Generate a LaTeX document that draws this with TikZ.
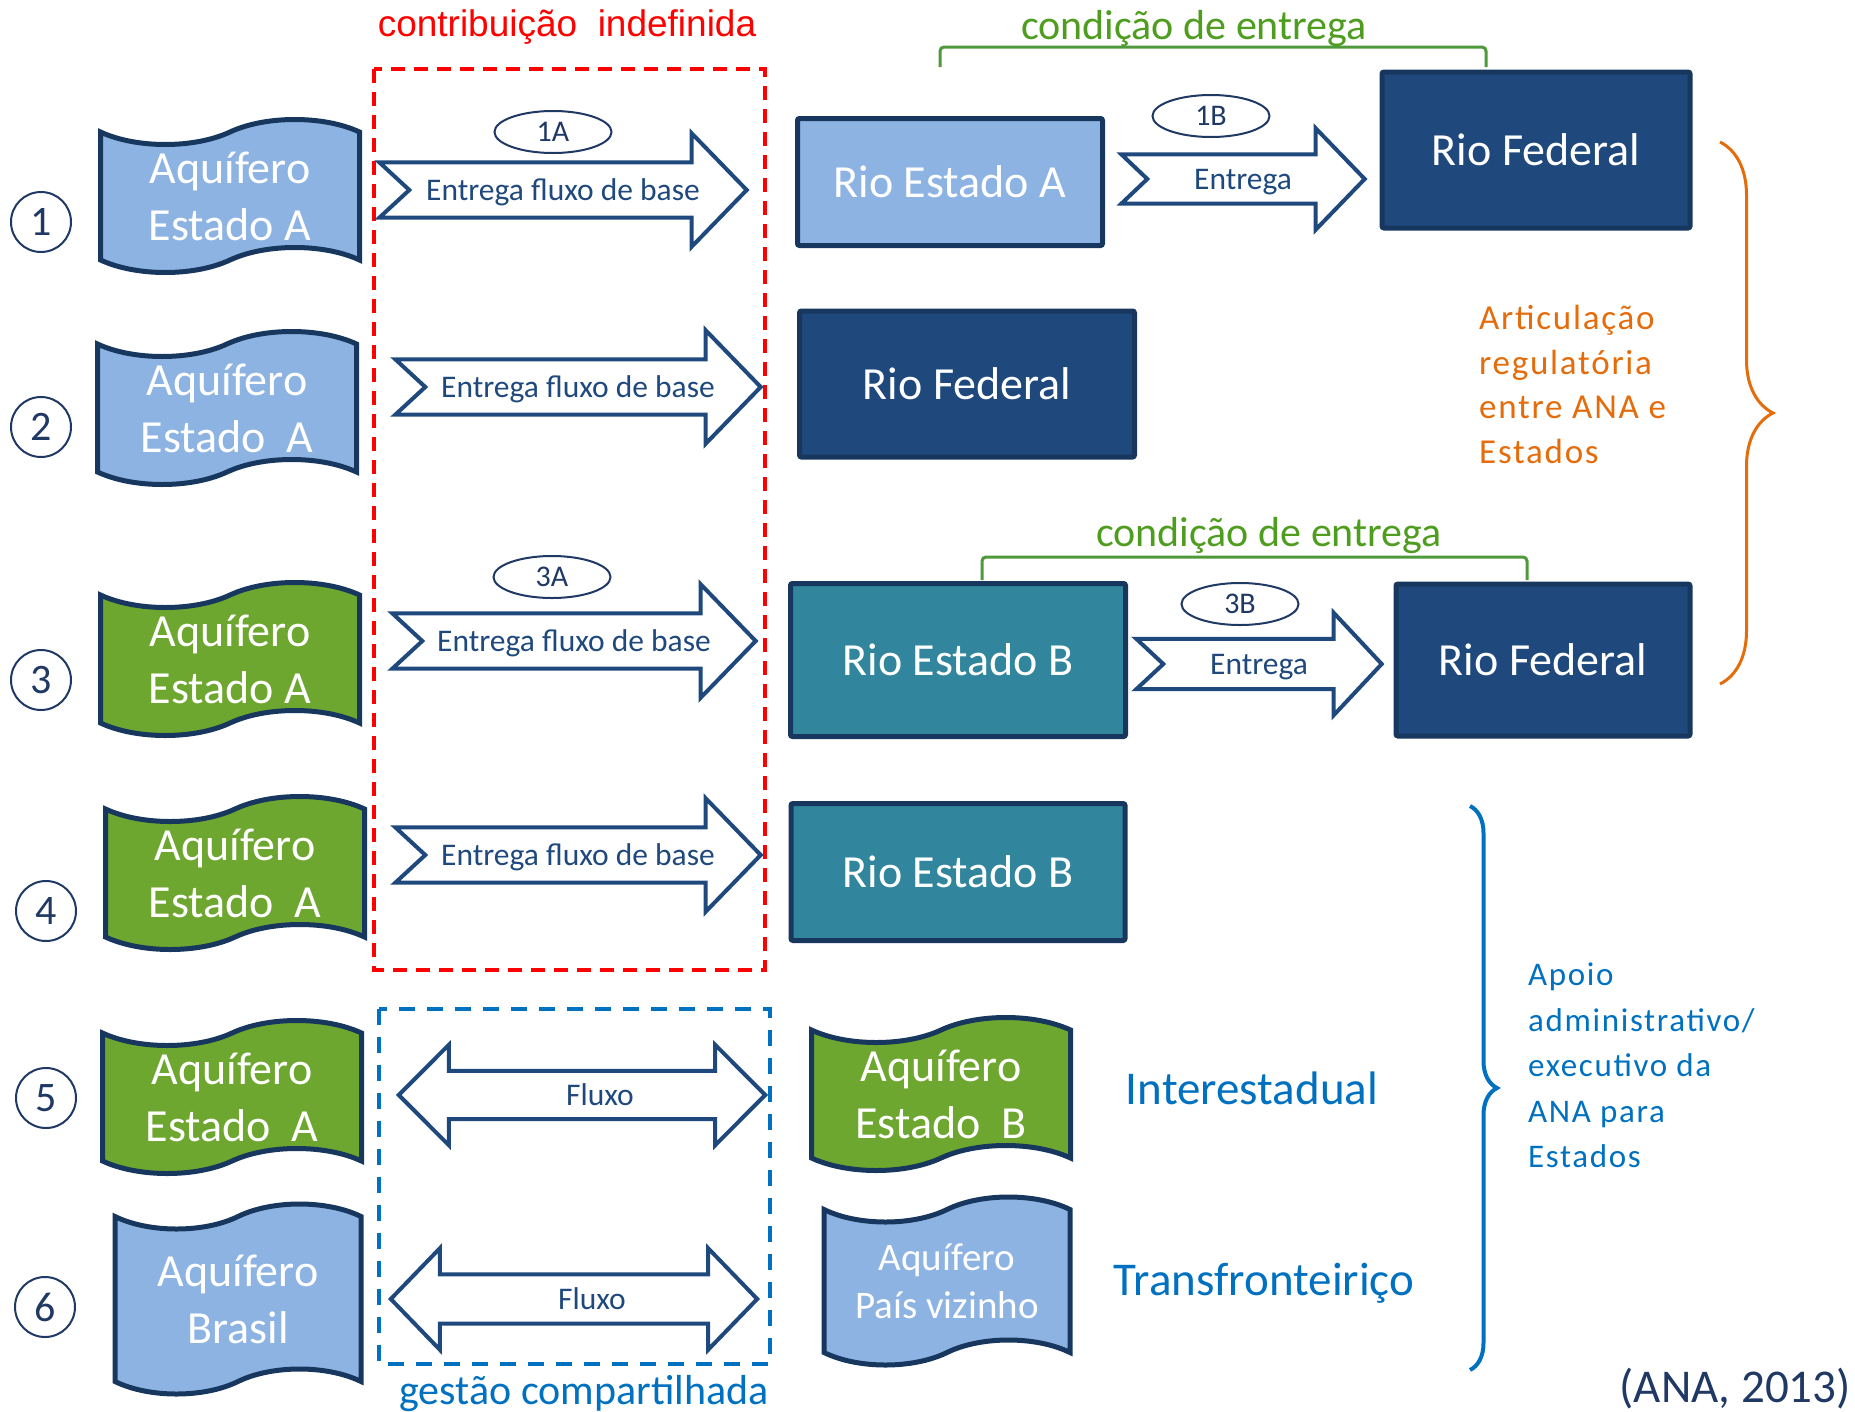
\documentclass[tikz,border=0pt]{standalone}
\usepackage{fontspec}
\setmainfont{Carlito}
\newfontfamily\arialfont{Liberation Sans}
\newfontfamily\widefont[LetterSpace=5]{Carlito}
\usetikzlibrary{shapes.symbols,shapes.geometric,decorations.pathreplacing}

\definecolor{navy}{HTML}{17375E}
\definecolor{numblue}{HTML}{1F3864}
\definecolor{arrowblue}{HTML}{1F497D}
\definecolor{lightblue}{HTML}{8DB3E2}
\definecolor{aqgreen}{HTML}{6EA72F}
\definecolor{fedblue}{HTML}{1F497D}
\definecolor{teal}{HTML}{31859C}
\definecolor{anablue}{HTML}{0070C0}
\definecolor{orangeana}{HTML}{E46C0A}
\definecolor{gtext}{HTML}{4F9D1F}
\definecolor{gline}{HTML}{4E9A3A}

\tikzset{
  aquifer/.style={tape, draw=navy, line width=5pt, tape bend top=in and out,
    tape bend bottom=in and out, tape bend height=25pt, minimum width=259pt,
    minimum height=153pt, inner sep=0pt, text=white, align=center,
    font=\fontsize{46}{57}\selectfont},
  rio/.style={draw=navy, line width=5pt, rounded corners=2pt, text=white,
    inner sep=0pt, font=\fontsize{46}{57}\selectfont},
  num/.style={circle, draw=numblue, line width=2pt, minimum size=60pt,
    inner sep=0pt, text=numblue, font=\fontsize{42}{42}\selectfont},
  shaft/.style={inner sep=0pt, text depth=0pt, text=arrowblue,
    font=\fontsize{31.5}{31.5}\selectfont},
  arrowline/.style={draw=arrowblue, line width=4pt, line join=miter},
  tag/.style={ellipse, draw=numblue, line width=2pt, minimum width=117pt,
    minimum height=42pt, inner sep=0pt, text=numblue,
    font=\fontsize{30}{30}\selectfont},
  gbracket/.style={draw=gline, line width=3pt, rounded corners=4pt},
  gcond/.style={text=gtext, inner sep=0pt, anchor=base, font=\fontsize{42}{42}\selectfont},
  bluebig/.style={text=anablue, inner sep=0pt, font=\fontsize{47}{47}\selectfont}
}

% block arrow with a notch at the tail: name, head length, head extra, notch
\newcommand{\notcharrow}[4]{%
  \draw[arrowline] (#1.north west) -- ([xshift=-#2]#1.north east)
    -- ([xshift=-#2,yshift=#3]#1.north east) -- (#1.east)
    -- ([xshift=-#2,yshift=-#3]#1.south east) -- ([xshift=-#2]#1.south east)
    -- (#1.south west) -- ([xshift=#4]#1.west) -- cycle;}
% block arrow with two heads: name, head length, head extra
\newcommand{\flowarrow}[3]{%
  \draw[arrowline] ([xshift=#2]#1.north west) -- ([xshift=-#2]#1.north east)
    -- ([xshift=-#2,yshift=#3]#1.north east) -- (#1.east)
    -- ([xshift=-#2,yshift=-#3]#1.south east) -- ([xshift=-#2]#1.south east)
    -- ([xshift=#2]#1.south west) -- ([xshift=#2,yshift=-#3]#1.south west)
    -- (#1.west) -- ([xshift=#2,yshift=#3]#1.north west) -- cycle;}

\begin{document}
\begin{tikzpicture}[x=1pt,y=-1pt]
\useasboundingbox (0,0) rectangle (1855,1411);

% dashed frames
\draw[red, line width=4pt, dash pattern=on 14pt off 9pt] (374,69) rectangle (765,970);
\draw[anablue, line width=4pt, dash pattern=on 16pt off 12pt] (379,1009) rectangle (770,1364);
\node[text=red, inner sep=0pt, anchor=base, font=\arialfont\fontsize{37}{37}\selectfont]
  (indef) at (567,36) {contribuição~~indefinida};
\node[text=anablue, inner sep=0pt, anchor=base, font=\fontsize{42}{42}\selectfont]
  (gestao) at (584,1404) {gestão compartilhada};

% numbers
\node[num] (n1) at (41,222) {1};
\node[num] (n2) at (41,427) {2};
\node[num] (n3) at (41,680) {3};
\node[num] (n4) at (46,911) {4};
\node[num] (n5) at (46,1098) {5};
\node[num] (n6) at (45,1307) {6};

% aquifers
\node[aquifer, fill=lightblue] (aq1) at (230,196) {Aquífero\\Estado A};
\node[aquifer, fill=lightblue] (aq2) at (227,408) {Aquífero\\Estado~~A};
\node[aquifer, fill=aqgreen] (aq3) at (230,659) {Aquífero\\Estado A};
\node[aquifer, fill=aqgreen] (aq4) at (235,873) {Aquífero\\Estado~~A};
\node[aquifer, fill=aqgreen] (aq5) at (232,1097) {Aquífero\\Estado~~A};
\node[aquifer, fill=lightblue, minimum width=246pt, minimum height=190pt]
  (aq6) at (238,1299) {Aquífero\\Brasil};
\node[aquifer, fill=aqgreen] (aqB) at (941,1094) {Aquífero\\Estado~~B};
\node[aquifer, fill=lightblue, minimum width=246pt, minimum height=168pt,
  font=\fontsize{39}{48}\selectfont] (aqV) at (947,1281) {Aquífero\\País vizinho};

% rivers
\node[rio, fill=lightblue, minimum width=305pt, minimum height=127pt] (rea) at (950,182) {Rio Estado A};
\node[rio, fill=fedblue, minimum width=308pt, minimum height=156pt] (rf1) at (1536,150) {Rio Federal};
\node[rio, fill=fedblue, minimum width=335pt, minimum height=146pt] (rf2) at (967,384) {Rio Federal};
\node[rio, fill=teal, minimum width=335pt, minimum height=153pt] (reb3) at (958,660) {Rio Estado B};
\node[rio, fill=fedblue, minimum width=294pt, minimum height=152pt] (rf3) at (1543,660) {Rio Federal};
\node[rio, fill=teal, minimum width=334pt, minimum height=137pt] (reb4) at (958,872) {Rio Estado B};

% arrows
\node[shaft, minimum width=367pt, minimum height=55pt] (a1) at (563,190) {Entrega fluxo de base};
\node[shaft, minimum width=365pt, minimum height=55pt] (a2) at (578,387) {Entrega fluxo de base};
\node[shaft, minimum width=363pt, minimum height=55pt] (a3) at (574,641) {Entrega fluxo de base};
\node[shaft, minimum width=365pt, minimum height=55pt] (a4) at (578,855) {Entrega fluxo de base};
\notcharrow{a1}{55pt}{29pt}{30pt}
\notcharrow{a2}{55pt}{29pt}{30pt}
\notcharrow{a3}{55pt}{29pt}{30pt}
\notcharrow{a4}{55pt}{29pt}{30pt}
\node[shaft, minimum width=243pt, minimum height=49pt] (b1) at (1243,179) {Entrega};
\node[shaft, minimum width=245pt, minimum height=50pt] (b3) at (1259,664) {Entrega};
\notcharrow{b1}{49pt}{26pt}{26pt}
\notcharrow{b3}{48pt}{26pt}{27pt}
\node[shaft, minimum width=366pt, minimum height=48pt] (f5) at (582,1095) {\hspace{36pt}Fluxo};
\node[shaft, minimum width=366pt, minimum height=49pt] (f6) at (574,1299) {\hspace{36pt}Fluxo};
\flowarrow{f5}{50pt}{26pt}
\flowarrow{f6}{49pt}{26pt}

% tags
\node[tag] (t1A) at (553,132) {1A};
\node[tag] (t1B) at (1211,116) {1B};
\node[tag] (t3A) at (552,577) {3A};
\node[tag] (t3B) at (1240,604) {3B};

% delivery conditions
\draw[gbracket] (940,67) -- (940,47) -- (1486,47) -- (1486,67);
\node[gcond] (cond1) at (1194,39) {condição de entrega};
\draw[gbracket] (982,580) -- (982,557) -- (1527,557) -- (1527,580);
\node[gcond] (cond3) at (1269,546) {condição de entrega};

% braces
\draw[orangeana, line width=3pt, decorate, decoration={brace, amplitude=53pt}]
  (1720,142) -- (1720,684);
\node[text=orangeana, inner sep=0pt, anchor=north west, align=left,
  font=\widefont\fontsize{35}{44.6}\selectfont] (artic) at (1479,305)
  {Articulação\\regulatória\\entre ANA e\\Estados};
\draw[anablue, line width=4pt, decorate, decoration={brace, amplitude=27pt}]
  (1470,806) -- (1470,1370);
\node[text=anablue, inner sep=0pt, anchor=north west, align=left,
  font=\widefont\fontsize{33}{45.5}\selectfont] (apoio) at (1528,963)
  {Apoio\\administrativo/\\executivo da\\ANA para\\Estados};

\node[bluebig] (inter) at (1252,1088) {Interestadual};
\node[bluebig] (trans) at (1264,1283) {Transfronteiriço};
\node[text=numblue, inner sep=0pt, anchor=base east, font=\fontsize{47}{47}\selectfont]
  (fonte) at (1851,1402) {(ANA, 2013)};
\end{tikzpicture}
\end{document}
